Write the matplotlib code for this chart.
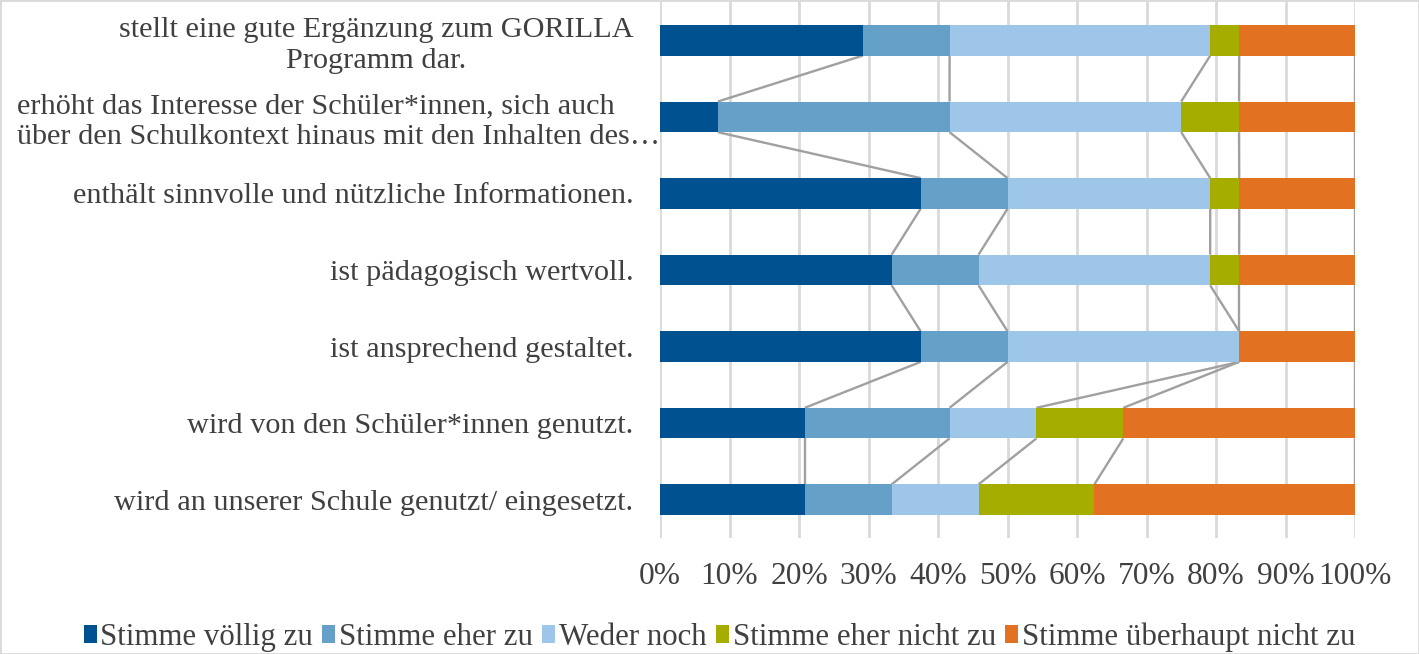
import matplotlib
matplotlib.use("Agg")
import matplotlib.pyplot as plt
from matplotlib.patches import Patch
from matplotlib.transforms import ScaledTranslation
import numpy as np

categories = [
    "stellt eine gute Ergänzung zum GORILLA\nProgramm dar.",
    "erhöht das Interesse der Schüler*innen, sich auch\nüber den Schulkontext hinaus mit den Inhalten des…",
    "enthält sinnvolle und nützliche Informationen.",
    "ist pädagogisch wertvoll.",
    "ist ansprechend gestaltet.",
    "wird von den Schüler*innen genutzt.",
    "wird an unserer Schule genutzt/ eingesetzt.",
]
series_names = ["Stimme völlig zu", "Stimme eher zu", "Weder noch",
                "Stimme eher nicht zu", "Stimme überhaupt nicht zu"]
voellig = [29.17, 8.33, 37.50, 33.33, 37.50, 20.83, 20.83]
eher = [12.50, 33.33, 12.50, 12.50, 12.50, 20.83, 12.50]
weder = [37.50, 33.33, 29.17, 33.33, 33.33, 12.50, 12.50]
eher_nicht = [4.17, 8.33, 4.17, 4.17, 0.00, 12.50, 16.67]
ueberhaupt = [16.67, 16.67, 16.67, 16.67, 16.67, 33.33, 37.50]
tick_labels = ["0%", "10%", "20%", "30%", "40%", "50%", "60%", "70%", "80%", "90%", "100%"]
colors = ["#00518F", "#64A0C8", "#9DC6E9", "#A5AD00", "#E37122"]

plt.rcParams['font.family'] = ['Liberation Serif', 'DejaVu Serif']
txt_color = "#404040"
fs_tick = 22.6
fs_cat = 21.8
fs_leg = 22.2

fig = plt.figure(figsize=(14.19, 6.54), dpi=100)
ax = fig.add_axes([660/1419, 1-538/654, (1355-660)/1419, (538-2)/654])

data = np.array([voellig, eher, weder, eher_nicht, ueberhaupt])
y = np.arange(len(categories))
h = 0.4
left = np.zeros(len(categories))
for vals, col, name in zip(data, colors, series_names):
    ax.barh(y, vals, left=left, height=h, color=col, label=name, zorder=3)
    left = left + vals

# series lines
cum = np.cumsum(data, axis=0)
for k in range(cum.shape[0]):
    for i in range(len(categories) - 1):
        ax.plot([cum[k, i], cum[k, i + 1]], [y[i] + h/2, y[i+1] - h/2],
                color="#A0A0A0", lw=1.7, zorder=2, solid_capstyle='butt')

ax.set_xlim(0, 100)
ax.set_ylim(len(categories) - 0.5, -0.5)
ax.set_xticks(np.arange(0, 101, 10))
ax.set_xticklabels(tick_labels, fontsize=fs_tick, color=txt_color)
ax.set_yticks(y)
ax.set_yticklabels(categories, fontsize=fs_cat, color=txt_color, multialignment='center',
                   linespacing=1.22)
ax.tick_params(axis='both', length=0)
ax.tick_params(axis='y', pad=19)
ax.tick_params(axis='x', pad=17)
ax.grid(axis='x', color="#D9D9D9", lw=2, zorder=0)
ax.set_axisbelow(True)
for s in ax.spines.values():
    s.set_visible(False)

# second label spills over towards axis (as in original)
lab = ax.get_yticklabels()[1]
lab.set_multialignment('left')
lab.set_transform(lab.get_transform() + ScaledTranslation(27/100, 0, fig.dpi_scale_trans))

handles = [Patch(facecolor=c, edgecolor='none') for c in colors]
leg = fig.legend(handles, series_names, loc='center', bbox_to_anchor=(0.507, 1-637/654),
                 ncol=5, frameon=False, fontsize=fs_leg, handlelength=0.42, handleheight=0.55,
                 handletextpad=0.12, columnspacing=0.3, borderaxespad=0)
for t in leg.get_texts():
    t.set_color(txt_color)

fig.patches.append(plt.Rectangle((0, 0), 1, 1, transform=fig.transFigure, fill=False,
                                 edgecolor="#D9D9D9", lw=2))
fig.savefig("out.png", dpi=100)
